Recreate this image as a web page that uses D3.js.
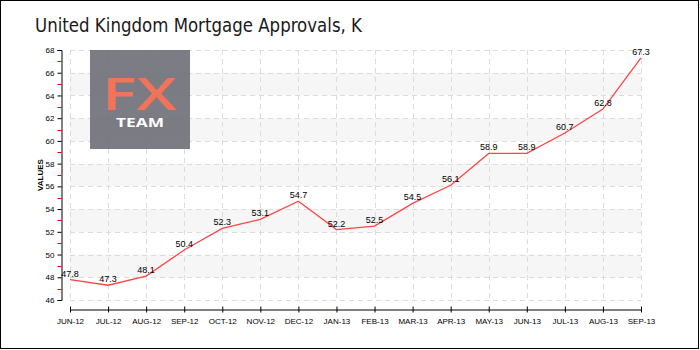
<!DOCTYPE html>
<html>
<head>
<meta charset="utf-8">
<script src="https://cdn.jsdelivr.net/npm/d3@7"></script>
<style>
  html, body { margin: 0; padding: 0; background: #fff; }
  svg { display: block; }
</style>
</head>
<body>
<svg id="chart" width="700" height="350"></svg>
<script>
// Monthly mortgage approvals, thousands
const months = ["JUN-12", "JUL-12", "AUG-12", "SEP-12", "OCT-12", "NOV-12", "DEC-12", "JAN-13",
                "FEB-13", "MAR-13", "APR-13", "MAY-13", "JUN-13", "JUL-13", "AUG-13", "SEP-13"];
const approvals = [47.8, 47.3, 48.1, 50.4, 52.3, 53.1, 54.7, 52.2, 52.5, 54.5, 56.1, 58.9, 58.9, 60.7, 62.8, 67.3];
const yTicks = [46, 48, 50, 52, 54, 56, 58, 60, 62, 64, 66, 68];
const yMinorTicks = [47, 49, 51, 53, 55, 57, 59, 61, 63, 65, 67];
const title = "United Kingdom Mortgage Approvals, K";
const yTitle = "VALUES";

const svg = d3.select("#chart");
const W = 700, H = 350;
const plotL = 70, plotR = 641, plotT = 50, plotB = 300;
const yAxisX = 61, xAxisY = 309;

// outer frame
svg.append("rect").attr("x", 0.5).attr("y", 0.5).attr("width", W - 2).attr("height", H - 2)
  .attr("fill", "#fff").attr("stroke", "#000").attr("stroke-width", 1);

svg.append("text").attr("x", 35).attr("y", 32)
  .attr("font-family", "'DejaVu Sans Condensed', 'DejaVu Sans', sans-serif")
  .attr("font-size", 20).attr("fill", "#1a1a1a")
  .attr("textLength", 327).attr("lengthAdjust", "spacingAndGlyphs")
  .text(title);

const x = d3.scalePoint().domain(months).range([plotL, plotR]);
const y = d3.scaleLinear().domain([46, 68]).range([plotB, plotT]);

// alternating bands
const bands = [[48, 50], [52, 54], [56, 58], [60, 62], [64, 66]];
svg.append("g").selectAll("rect").data(bands).join("rect")
  .attr("x", plotL).attr("width", plotR - plotL)
  .attr("y", d => y(d[1])).attr("height", d => y(d[0]) - y(d[1]))
  .attr("fill", "#f6f6f6");

// dashed grid
const grid = svg.append("g").attr("stroke", "#dcdcdc").attr("stroke-dasharray", "5,4").attr("stroke-width", 1);
grid.selectAll(".h").data(yTicks).join("line").attr("class", "h")
  .attr("x1", plotL).attr("x2", plotR)
  .attr("y1", d => Math.round(y(d)) + 0.5).attr("y2", d => Math.round(y(d)) + 0.5);
grid.selectAll(".v").data(months).join("line").attr("class", "v")
  .attr("x1", d => Math.round(x(d)) + 0.5).attr("x2", d => Math.round(x(d)) + 0.5)
  .attr("y1", plotT).attr("y2", plotB);

// logo badge
const logo = svg.append("g");
logo.append("rect").attr("x", 90).attr("y", 50).attr("width", 100).attr("height", 99)
  .attr("fill", "#6e6e78").attr("opacity", 0.9);
logo.append("text").attr("x", 102).attr("y", 110)
  .attr("font-family", "'Open Sans', 'DejaVu Sans', sans-serif").attr("font-size", 46)
  .attr("font-weight", 600).attr("fill", "#f0735a")
  .attr("textLength", 75).attr("lengthAdjust", "spacingAndGlyphs").text("FX");
logo.append("text").attr("x", 116).attr("y", 127)
  .attr("font-family", "'Open Sans', 'DejaVu Sans', sans-serif").attr("font-weight", "bold")
  .attr("font-size", 11.5).attr("fill", "#fff")
  .attr("textLength", 48).attr("lengthAdjust", "spacingAndGlyphs").text("TEAM");

// y axis
const yAxis = d3.axisLeft(y).tickValues(yTicks).tickSize(4).tickPadding(3).tickFormat(d3.format("d"));
const gy = svg.append("g").attr("transform", `translate(${yAxisX + 0.5},0)`).call(yAxis);
gy.select(".domain").attr("stroke", "#000");
gy.selectAll(".tick line").attr("stroke", "#000");
gy.selectAll("text").attr("font-family", "'Liberation Sans', Arial, sans-serif")
  .attr("font-size", 8).attr("fill", "#000");
gy.selectAll(".minor").data(yMinorTicks).join("line").attr("class", "minor")
  .attr("x1", -4).attr("x2", 0)
  .attr("y1", d => Math.round(y(d)) + 0.5).attr("y2", d => Math.round(y(d)) + 0.5)
  .attr("stroke", "#e00000");

svg.append("text")
  .attr("transform", `translate(43,${(plotT + plotB) / 2}) rotate(-90)`)
  .attr("text-anchor", "middle")
  .attr("font-family", "'Liberation Sans', Arial, sans-serif").attr("font-size", 8)
  .attr("font-weight", "bold").attr("fill", "#000")
  .text(yTitle);

// x axis
const xAxis = d3.axisBottom(x).tickSize(4).tickPadding(5).tickSizeOuter(0);
const gx = svg.append("g").attr("transform", `translate(0,${xAxisY + 0.5})`).call(xAxis);
gx.select(".domain").attr("stroke", "#000");
gx.selectAll(".tick line").attr("stroke", "#000").attr("y1", -3).attr("y2", 3);
gx.selectAll("text").attr("font-family", "'Liberation Sans', Arial, sans-serif")
  .attr("font-size", 8).attr("fill", "#000");

// series line
const line = d3.line().x((d, i) => x(months[i])).y(d => y(d));
svg.append("path").datum(approvals).attr("d", line)
  .attr("fill", "none").attr("stroke", "#ff4444").attr("stroke-width", 1.3);

// value labels
svg.append("g").selectAll("text").data(approvals).join("text")
  .attr("x", (d, i) => x(months[i]))
  .attr("y", d => y(d) - 3)
  .attr("text-anchor", "middle")
  .attr("font-family", "'Liberation Sans', Arial, sans-serif").attr("font-size", 9).attr("fill", "#000")
  .text(d => d.toFixed(1));
</script>
</body>
</html>
